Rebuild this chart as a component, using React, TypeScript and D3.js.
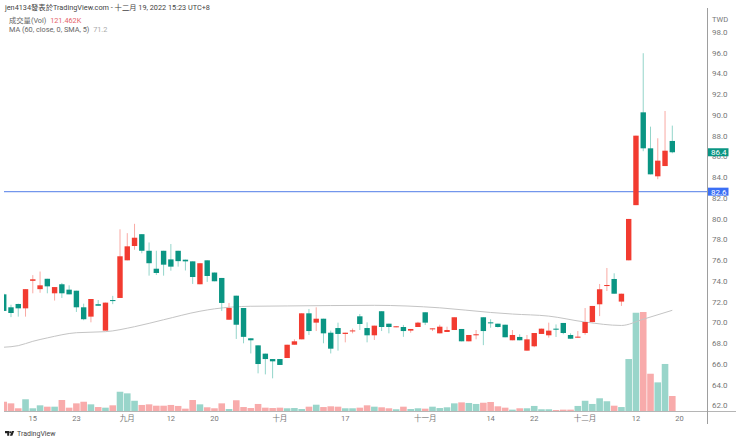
import React from 'react';
import * as d3 from 'd3';

const opens = [
  72.7, 71.45, 71.77, 71.35, 74.0, 73.2, 74.2, 72.8, 73.67, 73.15, 73.05, 71.45, 70.55, 71.75, 69.2, 72.15,
  72.35, 75.98, 77.36, 78.5, 76.9, 75.17, 76.9, 76.07, 76.9, 76.04, 75.88, 73.67, 75.98, 74.8, 74.28, 70.25,
  72.57, 71.38, 68.46, 67.78, 66.98, 66.46, 66.46, 66.56, 67.84, 68.36, 70.87, 69.97, 70.35, 69.0, 69.45, 68.88,
  69.16, 70.58, 69.45, 68.75, 71.07, 69.87, 69.52, 69.55, 69.2, 69.55, 70.97, 69.33, 68.94, 69.07, 69.26, 69.36,
  68.17, 68.75, 70.49, 70.0, 69.87, 69.77, 68.27, 68.59, 67.27, 67.69, 68.88, 68.75, 69.39, 69.94, 68.78, 68.52,
  68.97, 70.03, 71.74, 73.5, 74.18, 72.0, 75.98, 81.3, 90.25, 86.78, 84.08, 85.07, 87.49,
];
const highs = [
  72.8, 71.7, 71.8, 73.2, 74.55, 74.9, 74.2, 73.4, 73.8, 73.57, 73.05, 71.8, 72.25, 72.15, 71.9, 72.55,
  78.97, 78.6, 79.5, 78.5, 77.7, 76.9, 76.9, 77.55, 76.9, 76.04, 75.88, 75.7, 75.98, 74.8, 74.28, 71.87,
  72.57, 71.38, 68.46, 67.78, 66.98, 66.46, 66.46, 67.84, 68.36, 70.87, 71.29, 71.45, 70.35, 69.2, 69.97, 69.0,
  69.4, 70.8, 70.0, 69.68, 71.07, 69.87, 69.62, 69.75, 69.36, 70.05, 70.97, 69.42, 69.77, 69.58, 70.49, 69.36,
  68.78, 69.26, 70.49, 70.3, 69.87, 69.77, 69.26, 68.85, 68.78, 68.97, 69.39, 69.97, 69.8, 69.94, 68.94, 69.16,
  71.38, 71.58, 73.7, 75.24, 74.73, 72.76, 79.97, 88.0, 95.95, 88.87, 87.75, 90.38, 88.97,
];
const lows = [
  71.1, 70.5, 70.55, 70.55, 72.8, 72.85, 72.8, 72.1, 72.35, 72.7, 71.0, 70.2, 70.0, 71.6, 69.2, 71.75,
  72.35, 75.98, 77.0, 76.66, 74.5, 74.57, 74.5, 74.98, 75.37, 75.0, 73.7, 73.67, 73.9, 73.96, 71.1, 70.25,
  68.4, 67.98, 67.0, 65.08, 64.98, 64.6, 65.89, 66.56, 67.84, 68.36, 68.78, 69.16, 67.98, 67.0, 67.27, 68.07,
  68.94, 69.26, 68.07, 68.3, 69.16, 68.94, 69.52, 68.6, 69.0, 69.55, 69.74, 69.16, 68.94, 69.07, 69.26, 68.17,
  68.17, 68.36, 67.8, 69.48, 69.5, 68.56, 68.27, 68.27, 67.27, 67.6, 68.88, 68.52, 68.59, 68.85, 68.42, 68.52,
  68.8, 70.0, 70.6, 73.02, 72.76, 71.58, 75.98, 81.3, 86.5, 84.27, 83.8, 85.07, 86.3,
];
const closes = [
  71.1, 70.9, 71.35, 73.2, 74.15, 73.57, 73.47, 73.4, 72.8, 72.7, 71.45, 70.3, 72.25, 71.6, 71.9, 72.05,
  76.37, 77.33, 78.16, 76.9, 75.7, 74.76, 75.56, 75.37, 75.9, 75.88, 74.37, 75.7, 74.47, 73.96, 71.87, 71.38,
  69.77, 68.6, 68.27, 65.98, 66.46, 66.24, 65.89, 67.84, 68.17, 70.87, 69.16, 70.35, 68.94, 67.46, 68.88, 69.0,
  69.22, 69.84, 68.75, 69.68, 69.55, 69.55, 69.62, 69.16, 69.36, 69.97, 69.97, 69.42, 69.58, 69.26, 70.49, 68.17,
  68.78, 68.85, 69.16, 69.9, 69.55, 68.56, 68.78, 68.27, 68.36, 68.97, 69.39, 69.2, 69.29, 68.97, 68.42, 68.62,
  70.03, 71.58, 73.19, 73.6, 72.76, 72.76, 79.97, 88.0, 86.78, 84.27, 85.59, 86.55, 86.4,
];

// thousands of shares
const volumes = [
  75, 62, 22, 95, 22, 46, 35, 35, 89, 27, 62, 75, 54, 32, 27, 46,
  156, 143, 83, 49, 54, 43, 43, 49, 41, 19, 89, 54, 30, 22, 62, 16,
  87, 32, 24, 57, 27, 24, 27, 22, 24, 16, 35, 51, 32, 38, 35, 22,
  22, 27, 46, 35, 30, 22, 14, 35, 16, 22, 19, 35, 24, 30, 62, 70,
  65, 57, 67, 73, 38, 27, 11, 22, 22, 41, 14, 14, 8, 11, 11, 41,
  83, 57, 103, 79, 43, 32, 421, 796, 802, 302, 232, 381, 121.462,
];
// r = red bar, g = green bar
const volumeColors = 'rrrgggrgrrrrgrgr' + 'gggrrrrrrrrgrrrgrr' + 'rrrrrgggrgrrrggrrgrrgrggrggggrgg' + 'rrrrgrggggrrrgggggrgggrrggr';

const maIndex = [0, 2, 4, 6, 10, 14, 18, 22, 27, 29, 34, 39, 51, 60, 67, 70, 75, 80, 85, 88, 92];
const maValues = [67.6, 67.75, 68.17, 68.5, 69.0, 69.1, 69.58, 70.25, 71.07, 71.3, 71.55, 71.58, 71.64, 71.4, 70.95, 70.8, 70.6, 70.03, 69.7, 70.3, 71.16];

const priceTicks = [62, 64, 66, 68, 70, 72, 74, 76, 78, 80, 82, 84, 86, 88, 90, 92, 94, 96, 98];
const timeTicks: [number, string][] = [
  [4, '15'], [10, '23'], [17, '九月'], [23, '12'], [29, '20'], [38, '十月'], [47, '17'],
  [58, '十一月'], [67, '14'], [73, '22'], [80, '十二月'], [87, '12'], [93, '20'],
];
const hLinePrice = 82.6;
const lastPrice = 86.4;

const UP = '#f23b30';
const DOWN = '#0a9583';
const UP_WICK = '#f9aaa4';
const DOWN_WICK = '#93d5ca';
const UP_VOL = '#f8abab';
const DOWN_VOL = '#99d5ca';
const FONT = 'Roboto, "Noto Sans CJK TC", sans-serif';

export default function App() {
  const x = d3.scaleLinear().domain([0, 92]).range([3.73, 672.3]);
  const y = d3.scaleLinear().domain([62, 96]).range([405.3, 52.7]);
  const v = d3.scaleLinear().domain([0, 802]).range([411, 312]);
  const bodyW = 5.4;
  const volW = 6.6;

  const maLine = d3
    .line<number>()
    .x((d) => x(d))
    .y((_, i) => y(maValues[i]))
    .curve(d3.curveMonotoneX);

  return (
    <svg
      width={740}
      height={442}
      style={{ position: 'fixed', left: 0, top: 0, background: '#fff', fontFamily: FONT }}
    >
      <defs>
        <clipPath id="plot">
          <rect x={4} y={0} width={703.5} height={411} />
        </clipPath>
      </defs>

      <g clipPath="url(#plot)">
        {volumes.map((d, i) => (
          <rect
            key={i}
            x={x(i) - volW / 2}
            y={v(d)}
            width={volW}
            height={411 - v(d)}
            fill={volumeColors[i] === 'g' ? DOWN_VOL : UP_VOL}
          />
        ))}
        <path d={maLine(maIndex) || ''} fill="none" stroke="#c4c4c4" strokeWidth={1} />
        <line x1={4} x2={707} y1={y(hLinePrice)} y2={y(hLinePrice)} stroke="#7396ec" strokeWidth={1.3} />
        {opens.map((o, i) => {
          const c = closes[i];
          const isUp = c >= o;
          const top = y(Math.max(o, c));
          const bottom = y(Math.min(o, c));
          return (
            <g key={i}>
              <line
                x1={x(i)}
                x2={x(i)}
                y1={y(highs[i])}
                y2={y(lows[i])}
                stroke={isUp ? UP_WICK : DOWN_WICK}
                strokeWidth={1}
              />
              <rect
                x={x(i) - bodyW / 2}
                y={top}
                width={bodyW}
                height={Math.max(1, bottom - top)}
                fill={isUp ? UP : DOWN}
              />
            </g>
          );
        })}
      </g>

      <line x1={4} x2={736} y1={411.5} y2={411.5} stroke="#b5b5b5" strokeWidth={1} />
      <line x1={707.5} x2={707.5} y1={8} y2={424} stroke="#9e9e9e" strokeWidth={1} />

      <text x={712} y={22} fontSize={7.5} fill="#777">TWD</text>
      {priceTicks.map((t) => (
        <text key={t} x={712} y={y(t) + 3} fontSize={8} fill="#777">{t.toFixed(1)}</text>
      ))}
      {timeTicks.map(([i, label]) => (
        <text key={label + i} x={x(i)} y={421} fontSize={7.5} fill="#777" textAnchor="middle">{label}</text>
      ))}

      <rect x={708} y={y(lastPrice) - 4} width={20.5} height={8} fill={DOWN} />
      <text x={711} y={y(lastPrice) + 3} fontSize={8} fill="#fff">{lastPrice.toFixed(1)}</text>
      <rect x={708} y={y(hLinePrice) - 4} width={20.5} height={8} fill="#3b6ff5" />
      <text x={711} y={y(hLinePrice) + 3} fontSize={8} fill="#fff">{hLinePrice.toFixed(1)}</text>

      <text x={5} y={10} fontSize={7.3} fill="#444">jen4134發表於TradingView.com - 十二月 19, 2022 15:23 UTC+8</text>
      <text x={9} y={23} fontSize={7.3} fill="#666">
        成交量(Vol) <tspan fill="#e5646a" dx={2}>121.462K</tspan>
      </text>
      <text x={9} y={32} fontSize={7.3} fill="#666">
        MA (60, close, 0, SMA, 5) <tspan fill="#aaa" dx={2}>71.2</tspan>
      </text>

      <g fill="#222">
        <path d="M5 431 h4.2 v4.7 h-2 v-2.5 h-2.2 z" />
        <circle cx={10.2} cy={432.2} r={1} />
        <path d="M11.8 431 h2.4 l-1.9 4.7 h-2.4 z" />
      </g>
      <text x={17} y={436} fontSize={7} fill="#444">TradingView</text>
    </svg>
  );
}
